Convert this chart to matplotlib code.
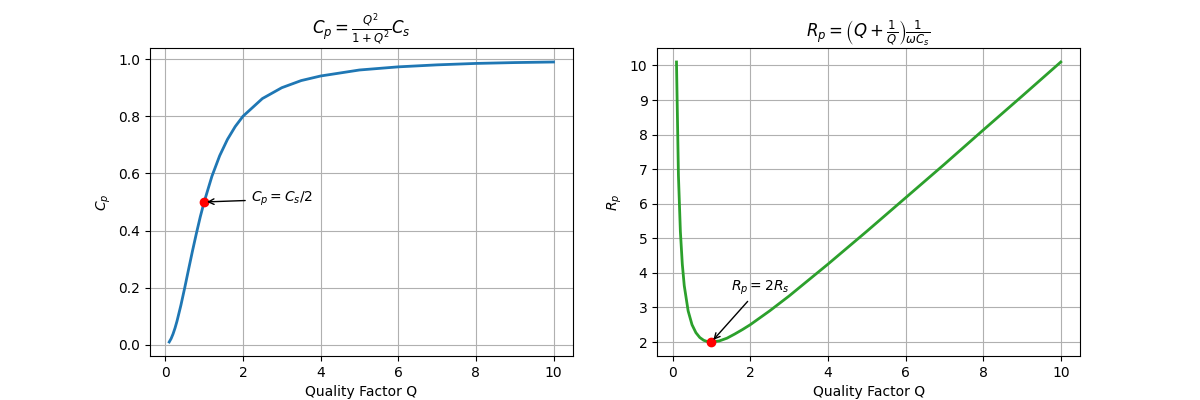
import matplotlib
matplotlib.use("Agg")
import matplotlib.pyplot as plt

Q = [0.1, 0.15, 0.2, 0.25, 0.3, 0.4, 0.5, 0.6, 0.7, 0.8, 0.9, 1.0, 1.2, 1.4, 1.6, 1.8, 2.0,
     2.5, 3.0, 3.5, 4.0, 5.0, 6.0, 7.0, 8.0, 9.0, 10.0]
Cp = [0.0099, 0.022, 0.0385, 0.0588, 0.0826, 0.138, 0.2, 0.265, 0.329, 0.390, 0.448, 0.5,
      0.590, 0.662, 0.719, 0.764, 0.8, 0.862, 0.9, 0.925, 0.941, 0.962, 0.973, 0.980,
      0.985, 0.988, 0.990]
Rp = [10.1, 6.82, 5.2, 4.25, 3.63, 2.9, 2.5, 2.27, 2.13, 2.05, 2.01, 2.0, 2.03, 2.11,
      2.23, 2.36, 2.5, 2.9, 3.33, 3.79, 4.25, 5.2, 6.17, 7.14, 8.13, 9.11, 10.1]
marker_q = 1.0
marker_cp = 0.5
marker_rp = 2.0

fig, (ax1, ax2) = plt.subplots(1, 2, figsize=(12, 4), dpi=100)

ax1.plot(Q, Cp, color="#1f77b4", lw=2)
ax1.plot(marker_q, marker_cp, "ro")
ax1.annotate(r"$C_p = C_s/2$", xy=(marker_q, marker_cp), xytext=(2.2, 0.5),
             arrowprops=dict(arrowstyle="->", color="black"))
ax1.set_title(r"$C_p = \frac{Q^2}{1+Q^2}C_s$")
ax1.set_xlabel("Quality Factor Q")
ax1.set_ylabel(r"$C_p$")
ax1.grid(True)

ax2.plot(Q, Rp, color="#2ca02c", lw=2)
ax2.plot(marker_q, marker_rp, "ro")
ax2.annotate(r"$R_p = 2R_s$", xy=(marker_q, marker_rp), xytext=(1.5, 3.5),
             arrowprops=dict(arrowstyle="->", color="black"))
ax2.set_title(r"$R_p = \left(Q+\frac{1}{Q}\right)\frac{1}{\omega C_s}$")
ax2.set_xlabel("Quality Factor Q")
ax2.set_ylabel(r"$R_p$")
ax2.grid(True)

fig.savefig("out.png")
